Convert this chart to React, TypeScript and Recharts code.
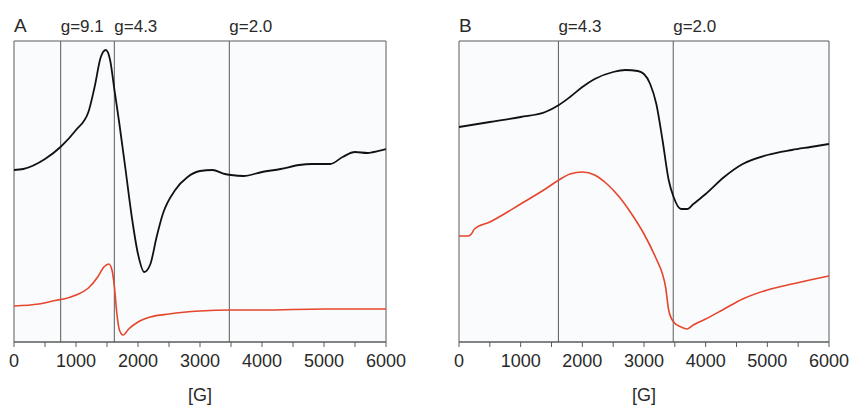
import React from 'react';
import { LineChart, Line, XAxis, YAxis, ReferenceLine, ReferenceArea } from 'recharts';

// field positions in Gauss, signal in arbitrary units (0..301)
const blackAField = [0, 150, 500, 750, 1000, 1200, 1300, 1400, 1480, 1550, 1620, 1700, 1800, 1900, 2000, 2100, 2200, 2300, 2400, 2600, 2800, 3000, 3200, 3400, 3500, 3700, 4000, 4300, 4600, 4800, 5100, 5300, 5500, 5700, 5800, 6000];
const blackASignal = [172, 173, 183, 195, 212, 230, 255, 285, 292, 282, 252, 218, 172, 125, 88, 70, 78, 105, 128, 152, 165, 171, 172, 168, 167, 166, 170, 173, 177, 178, 178, 185, 190, 189, 190, 193];

const redAField = [0, 400, 700, 800, 1000, 1200, 1350, 1450, 1530, 1580, 1620, 1660, 1700, 1760, 1850, 2000, 2200, 2500, 3000, 3500, 4000, 5000, 6000];
const redASignal = [36, 38, 42, 43, 47, 54, 65, 75, 78, 72, 55, 28, 12, 7, 13, 20, 25, 28, 31, 32, 32, 33, 33];

const blackBField = [0, 500, 1000, 1400, 1620, 1800, 2000, 2200, 2500, 2700, 2900, 3000, 3100, 3200, 3300, 3400, 3480, 3600, 3700, 3800, 4000, 4300, 4600, 5000, 5400, 5700, 6000];
const blackBSignal = [215, 220, 225, 230, 237, 245, 255, 263, 270, 272, 271, 268, 258, 238, 202, 162, 145, 133, 133, 138, 148, 165, 178, 187, 192, 195, 198];

const redBField = [0, 150, 200, 250, 500, 1000, 1400, 1620, 1800, 2000, 2200, 2400, 2600, 2800, 3000, 3200, 3300, 3350, 3400, 3480, 3600, 3700, 3800, 4000, 4300, 4600, 5000, 5400, 6000];
const redBSignal = [106, 106, 108, 113, 120, 138, 153, 162, 168, 170, 167, 158, 145, 128, 108, 83, 68, 55, 32, 20, 15, 13, 17, 23, 33, 43, 52, 58, 66];

const gLinesA = [753, 1618, 3473];
const gLabelsA = ['g=9.1', 'g=4.3', 'g=2.0'];
const gLinesB = [1612, 3474];
const gLabelsB = ['g=4.3', 'g=2.0'];

const xTicks = [0, 500, 1000, 1500, 2000, 2500, 3000, 3500, 4000, 4500, 5000, 5500, 6000];

const FONT = '"Liberation Sans", Arial, sans-serif';
const FRAME = '#5a5a5a';
const TEXT = '#2a2a2a';

const zip = (xs: number[], ys: number[]) => xs.map((g, i) => ({ g, v: ys[i] }));

const TopLabel = (text: string) => (props: any) => {
  const { viewBox } = props;
  return (
    <text x={viewBox.x} y={viewBox.y - 9} fill={TEXT} fontSize={17} fontFamily={FONT} textAnchor="start">
      {text}
    </text>
  );
};

function Panel({ title, black, red, lines, labels, width, left, right }: any) {
  return (
    <LineChart width={width} height={408} margin={{ top: 41, left, right, bottom: 36 }}>
      <XAxis
        type="number"
        dataKey="g"
        domain={[0, 6000]}
        ticks={xTicks}
        interval={0}
        tickFormatter={(t: number) => (t % 1000 === 0 ? String(t) : '')}
        stroke={FRAME}
        tickSize={5}
        tickMargin={7}
        height={30}
        tick={{ fill: TEXT, fontSize: 18, fontFamily: FONT }}
        allowDataOverflow
        label={{ value: '[G]', position: 'bottom', offset: 16, fill: TEXT, fontSize: 18, fontFamily: FONT }}
      />
      <YAxis type="number" domain={[0, 301]} hide allowDataOverflow />
      <ReferenceArea x1={0} x2={6000} y1={0} y2={301} fill="#fafbfd" fillOpacity={1} stroke={FRAME} strokeWidth={1} ifOverflow="visible" />
      <ReferenceArea
        x1={0} x2={6000} y1={0} y2={301} fill="none" stroke="none" ifOverflow="visible"
        label={(p: any) => (
          <text x={p.viewBox.x} y={p.viewBox.y - 9} fill={TEXT} fontSize={19} fontFamily={FONT}>{title}</text>
        )}
      />
      {lines.map((x: number, i: number) => (
        <ReferenceLine key={i} x={x} stroke={FRAME} strokeWidth={1} label={TopLabel(labels[i])} />
      ))}
      <Line data={black} dataKey="v" type="monotone" stroke="#111" strokeWidth={1.8} dot={false} isAnimationActive={false} />
      <Line data={red} dataKey="v" type="monotone" stroke="#e5462c" strokeWidth={1.6} dot={false} isAnimationActive={false} />
    </LineChart>
  );
}

export default function App() {
  return (
    <div style={{ position: 'absolute', left: 0, top: 0, width: 849, height: 408, background: '#fff', overflow: 'hidden' }}>
      <div style={{ position: 'absolute', left: 0, top: 0 }}>
        <Panel title="A" black={zip(blackAField, blackASignal)} red={zip(redAField, redASignal)} lines={gLinesA} labels={gLabelsA} width={420} left={14} right={34} />
      </div>
      <div style={{ position: 'absolute', left: 430, top: 0 }}>
        <Panel title="B" black={zip(blackBField, blackBSignal)} red={zip(redBField, redBSignal)} lines={gLinesB} labels={gLabelsB} width={419} left={29} right={20} />
      </div>
    </div>
  );
}
